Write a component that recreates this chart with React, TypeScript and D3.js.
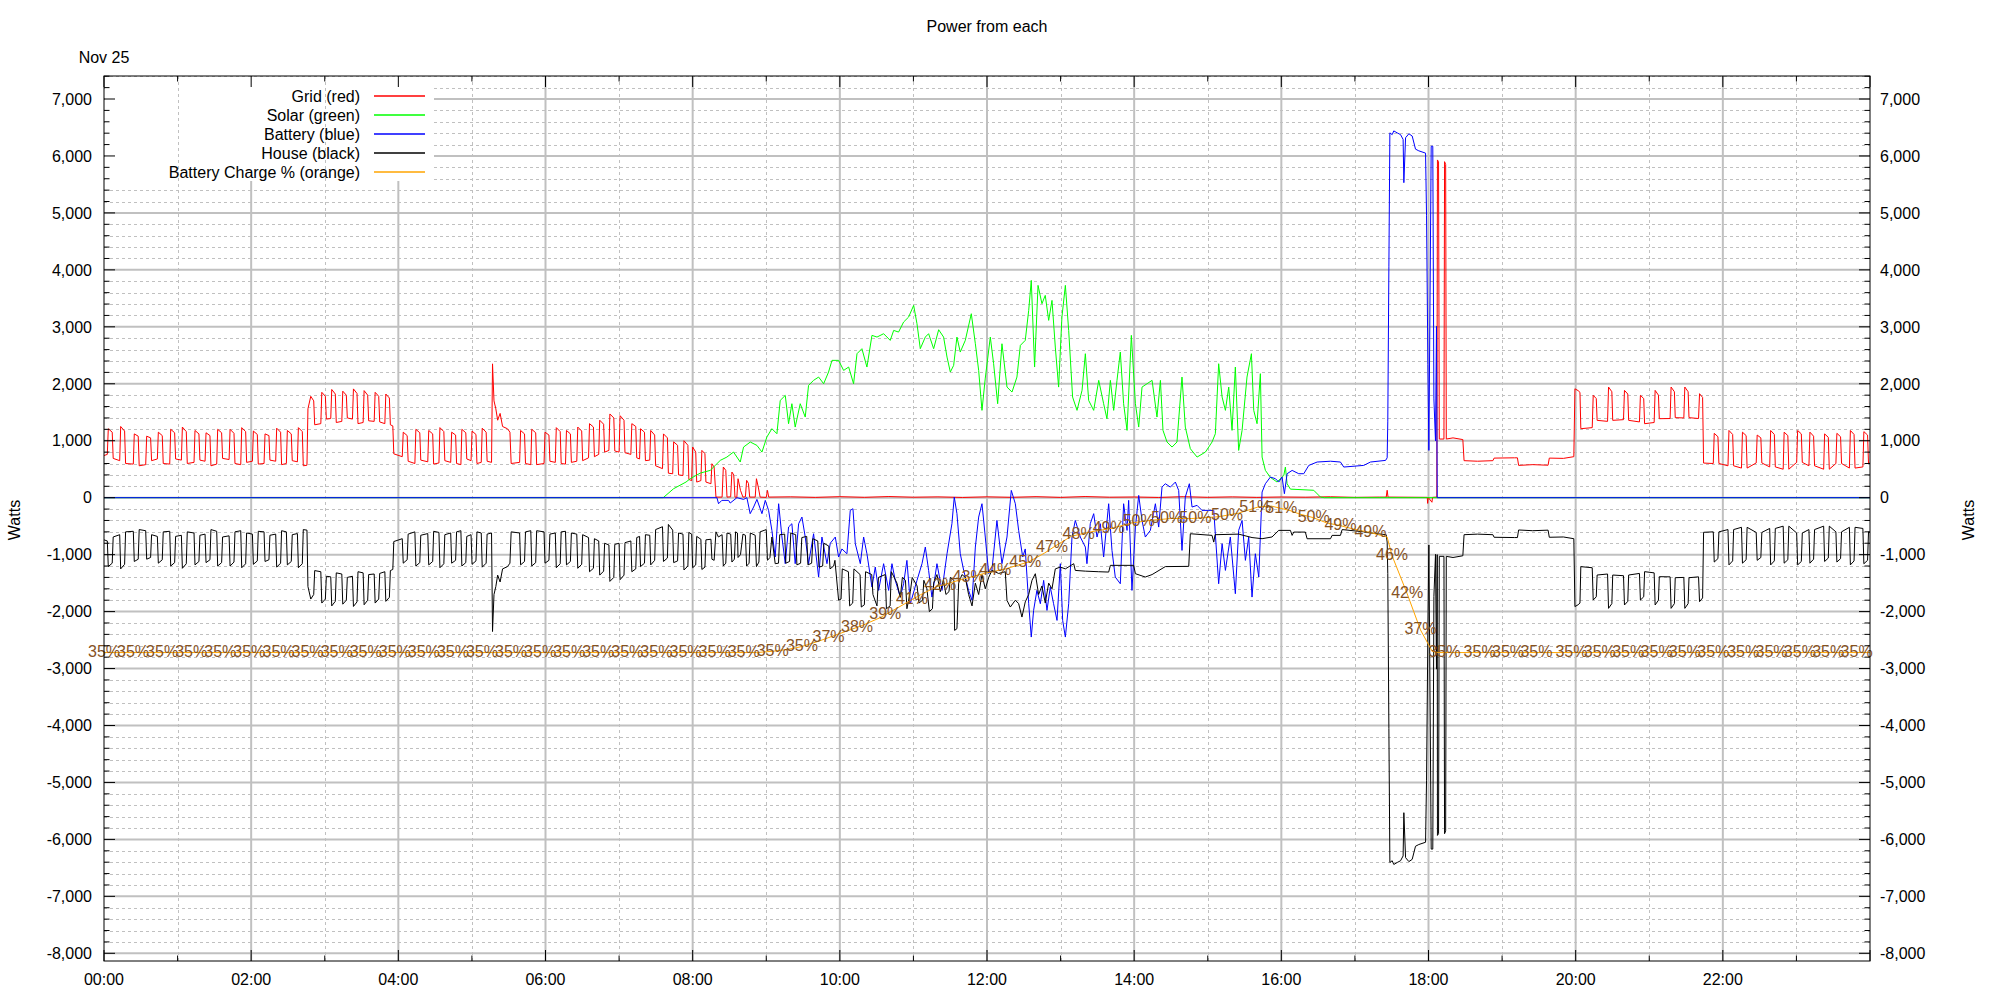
import React from 'react';
import * as d3 from 'd3';

// ---------- layout ----------
const PL = 104, PR = 1870, PT = 76, PB = 961;
const Y_MIN = -8135, Y_MAX = 7404;
const FONT = "'Liberation Sans', Arial, sans-serif";

// ---------- ticks / labels ----------
const yMajorTicks = [-8000, -7000, -6000, -5000, -4000, -3000, -2000, -1000, 0, 1000, 2000, 3000, 4000, 5000, 6000, 7000];
const yMinorTicks = [-8000, -7800, -7600, -7400, -7200, -7000, -6800, -6600, -6400, -6200, -6000, -5800, -5600, -5400, -5200, -5000, -4800, -4600, -4400, -4200, -4000, -3800, -3600, -3400, -3200, -3000, -2800, -2600, -2400, -2200, -2000, -1800, -1600, -1400, -1200, -1000, -800, -600, -400, -200, 0, 200, 400, 600, 800, 1000, 1200, 1400, 1600, 1800, 2000, 2200, 2400, 2600, 2800, 3000, 3200, 3400, 3600, 3800, 4000, 4200, 4400, 4600, 4800, 5000, 5200, 5400, 5600, 5800, 6000, 6200, 6400, 6600, 6800, 7000, 7200, 7400];
const xMajorHours = [0, 2, 4, 6, 8, 10, 12, 14, 16, 18, 20, 22, 24];
const xMinorHours = [1, 3, 5, 7, 9, 11, 13, 15, 17, 19, 21, 23];
const xTickLabels = ['00:00', '02:00', '04:00', '06:00', '08:00', '10:00', '12:00', '14:00', '16:00', '18:00', '20:00', '22:00'];

const legendItems: [string, string][] = [
  ['Grid (red)', '#ff0000'],
  ['Solar (green)', '#00ff00'],
  ['Battery (blue)', '#0000ff'],
  ['House (black)', '#000000'],
  ['Battery Charge % (orange)', '#ffa500'],
];

// ---------- data: [minute of day, watts] ----------
const gridPts: [number, number][] = [
  [0,740],[2.7,760],[3.5,1210],[6.7,1150],[7.5,690],
  [12.8,650],[13.6,1250],[16.8,1170],[17.6,600],
  [23.9,590],[24.7,1120],[27.9,1080],[28.7,560],
  [34,580],[34.8,1080],[38,1050],[38.8,650],
  [43.5,680],[44.3,1150],[47.5,1090],[48.3,600],
  [53.6,590],[54.4,1200],[57.6,1140],[58.4,680],
  [63.1,660],[63.9,1240],[67.1,1160],[67.9,600],
  [73.4,620],[74.2,1180],[77.4,1120],[78.2,660],
  [82.4,640],[83.2,1140],[86.4,1090],[87.2,560],
  [91.9,590],[92.7,1200],[95.9,1140],[96.7,690],
  [102,670],[102.8,1200],[106,1130],[106.8,600],
  [111.5,580],[112.3,1230],[115.5,1160],[116.3,620],
  [121,640],[121.8,1170],[125,1110],[125.8,590],
  [130.5,600],[131.3,1120],[134.5,1090],[135.3,660],
  [140,640],[140.8,1220],[144,1150],[144.8,580],
  [148.7,600],[149.5,1180],[152.7,1120],[153.5,650],
  [157.7,630],[158.5,1230],[161.7,1160],[162.5,560],
  [165.5,570],[166.3,1560],[168.6,1780],[171,1700],[171.8,1280],
  [176.8,1300],[177.6,1850],[180.5,1780],[181.3,1380],
  [184.9,1390],[185.7,1900],[188.6,1820],[189.4,1320],
  [193.9,1340],[194.7,1870],[197.6,1800],[198.4,1400],
  [202.6,1380],[203.4,1910],[206.3,1830],[207.1,1300],
  [211.3,1320],[212.1,1880],[215,1800],[215.8,1350],
  [220.3,1340],[221.1,1850],[224,1780],[224.8,1330],
  [229,1300],[229.8,1820],[232.7,1750],[233.5,1280],
  [235.5,1260],[236.3,770],
  [243.2,720],[244,1150],[247.2,1090],[248,640],
  [253.5,600],[254.3,1200],[257.5,1140],[258.3,660],
  [264,630],[264.8,1180],[268,1120],[268.8,590],
  [273.1,610],[273.9,1230],[277.1,1160],[277.9,650],
  [282.7,620],[283.5,1150],[286.7,1100],[287.5,600],
  [291,580],[291.8,1200],[295,1140],[295.8,680],
  [299.3,650],[300.1,1170],[303.3,1110],[304.1,600],
  [307.6,620],[308.4,1220],[311.6,1150],[312.4,640],
  [316,620],[316.8,2350],[318,1700],[319.5,1560],[321,1360],[323,1480],[325,1250],[329,1210],[331,1150],[332,600],
  [338.9,620],[339.7,1180],[342.9,1120],[343.7,600],
  [348,580],[348.8,1200],[352,1140],[352.8,580],
  [358.8,600],[359.6,1150],[362.8,1100],[363.6,640],
  [368,620],[368.8,1230],[372,1160],[372.8,600],
  [376.3,590],[377.1,1180],[380.3,1120],[381.1,620],
  [385.5,640],[386.3,1240],[389.5,1170],[390.3,650],
  [395.1,700],[395.9,1300],[399.1,1240],[399.9,720],
  [403.4,760],[404.2,1360],[407.4,1290],[408.2,800],
  [411.7,830],[412.5,1470],[415.7,1400],[416.5,820],
  [420,800],[420.8,1440],[424,1360],[424.8,790],
  [429.6,760],[430.4,1300],[433.6,1250],[434.4,700],
  [436.7,680],[437.5,1210],[440.7,1150],[441.5,650],
  [445,660],[445.8,1180],[449,1100],[449.8,560],
  [455.4,510],[456.2,1120],[459.4,1050],[460.2,430],
  [463.7,420],[464.5,980],[467.7,920],[468.5,400],
  [472.1,390],[472.9,1000],[476.1,920],[476.9,320],
  [479.2,300],[480,890],[482.5,800],[483.3,274],
  [486.7,300],[487.5,830],[490,772],[490.8,274],
  [494.9,245],[495.7,596],[497.5,538],[499,10],
  [504,10],[505,538],[507,480],[508,10],
  [511,15],[512,450],[513.5,400],[514.5,10],
  [516,5],[517,333],[519,128],[521,10],
  [523,15],[524,304],[525.5,250],[526.5,10],
  [531,10],[532,333],[533.5,187],[535,10],
  [540,5],[541,128],[542,10],
  [560,15],[580,5],[600,18],[620,6],[640,20],[660,8],[680,14],[700,4],[720,15],[740,6],[760,18],[780,5],[800,20],[820,8],[840,12],[860,4],[880,18],[900,6],[920,14],[940,5],[960,12],[980,8],[1000,16],[1020,5],[1040,10],
  [1045.5,10],[1046.3,130],[1047,10],[1079,5],[1079.3,-100],[1079.8,5],[1082.8,-80],[1083.3,5],[1086.8,10],
  [1087.3,5930],[1088.2,5900],[1088.8,1030],[1092.6,1030],[1093.1,5900],[1094,5850],[1094.5,1030],
  [1100,1050],[1108,1020],[1109,650],[1120,640],[1132.5,650],[1133.5,695],[1150,700],[1152.5,700],[1153.5,567],[1165,580],[1177.5,570],[1178.5,695],[1190,690],[1198.5,720],
  [1199.4,1912],[1202,1880],[1203.5,1850],[1204.2,1211],
  [1213.5,1230],[1214.3,1797],[1216.8,1740],[1217.5,1358],
  [1226,1340],[1226.8,1943],[1229.5,1860],[1230.2,1358],
  [1239,1370],[1239.8,1884],[1242.5,1820],[1243.2,1358],
  [1252,1330],[1252.8,1797],[1255.5,1740],[1256.2,1299],
  [1264,1320],[1264.8,1884],[1267.5,1800],[1268.2,1387],
  [1277,1390],[1277.8,1943],[1280.5,1860],[1281.2,1405],
  [1288.2,1400],[1289,1943],[1291.7,1860],[1292.4,1405],
  [1300.2,1390],[1301,1826],[1303.5,1760],[1304.3,608],
  [1312.2,600],[1313,1130],[1316,1070],[1316.8,600],
  [1324.2,560],[1325,1180],[1328,1110],[1328.8,560],
  [1335.2,520],[1336,1150],[1339,1090],[1339.8,520],
  [1347.2,610],[1348,1100],[1351,1050],[1351.8,610],
  [1358.2,540],[1359,1180],[1362,1110],[1362.8,540],
  [1369.2,500],[1370,1150],[1373,1090],[1373.8,500],
  [1380.2,620],[1381,1180],[1384,1120],[1384.8,620],
  [1390.2,560],[1391,1150],[1394,1080],[1394.8,560],
  [1402.2,500],[1403,1120],[1406,1060],[1406.8,500],
  [1412.2,600],[1413,1130],[1416,1070],[1416.8,600],
  [1423.2,520],[1424,1180],[1427,1110],[1427.8,520],
  [1434.2,540],[1435,1160],[1438,1100],[1438.8,600],[1440,610],
];

const solarPts: [number, number][] = [
  [0,0],[456,0],[464.4,157],[474.6,275],[478,333],[486.2,432],[494.3,479],[498.4,567],[502.5,655],[507.9,713],[513.3,801],[518.8,626],[521.5,889],[527,977],[532.4,918],[536.5,801],[540.5,1065],[544.6,1211],[548.7,1123],[551.4,1708],[555.5,1796],[558.2,1299],[560.9,1650],[563.6,1240],[567.7,1650],[571.8,1416],[574.5,1972],[578.6,2060],[582.7,2118],[586.8,2001],[590.8,2206],[593.6,2411],[599,2411],[603.1,2235],[607.2,2294],[611.2,2001],[614,2528],[618,2616],[622.1,2294],[626.2,2850],[630.3,2820],[635.7,2879],[641.1,2762],[643.9,2937],[647.9,2908],[652,3084],[656.1,3172],[660.2,3376],[662.9,3055],[665.6,2616],[669.7,2820],[672.4,2879],[676.5,2616],[680.6,2949],[684.6,2820],[687.4,2469],[690.1,2206],[692.8,2323],[695.5,2820],[698.2,2557],[702.3,2762],[707.2,3230],[710.5,2703],[713.2,2235],[715.9,1533],[718.6,2100],[722.7,2820],[725.4,2352],[728.7,1650],[732.2,2703],[736.3,1942],[740.4,1855],[744.4,2118],[747.2,2674],[751.2,2762],[754,3289],[756.1,3815],[758.8,2294],[761.6,3728],[764.8,3406],[767.5,3552],[770.3,3113],[773,3464],[775.7,2645],[778.4,1942],[781.1,3172],[783.9,3728],[786.6,2937],[789.8,1767],[793.4,1533],[797.5,1884],[800.2,2528],[802.9,1708],[807,1533],[811.1,2060],[815.1,1650],[817.8,1387],[820.6,2060],[823.3,1533],[826,2060],[828.7,2557],[831.4,1650],[834.2,1182],[837.7,2850],[841,1650],[843.7,1240],[846.4,1942],[850.5,2001],[854.6,2060],[858.6,1416],[861.4,2060],[863.5,1182],[866.8,977],[870.9,889],[874.9,977],[879,2118],[881.7,1240],[885.8,860],[891.3,713],[898.1,801],[903.5,977],[906.2,1123],[908.9,2352],[911.7,1767],[914.4,1533],[917.1,1942],[919.8,1182],[922.5,2294],[925.2,830],[928,1182],[932,2118],[935.6,2528],[937.5,1533],[940.2,1299],[942.9,2177],[944.3,713],[947,479],[951.1,356],[956.5,275],[962,390],[963.3,538],[964.7,245],[967.4,150],[986.4,130],[991.9,11],[995,0],[1440,0],
];

const batteryPts: [number, number][] = [
  [0,0],[499.8,0],[501.1,-106],[503.8,-47],[509.3,-47],[510.6,-94],[516.1,0],[521.5,-30],[524.2,0],[526.9,-281],[529.7,-164],[532.4,-30],[536.5,-281],[539.2,-47],[541.9,-223],[544.6,-574],[547.3,-1042],[550.1,-106],[552.8,-691],[555.5,-1159],[558.2,-515],[560.9,-457],[563.6,-1159],[566.4,-457],[569.1,-340],[571.8,-691],[574.5,-1159],[578.6,-633],[582.7,-1393],[585.4,-691],[589.5,-1159],[592.2,-800],[596.3,-691],[599,-1042],[601.7,-900],[605.8,-984],[608.5,-223],[610.7,-194],[612.6,-808],[616.7,-1159],[619.4,-691],[622.1,-984],[626.2,-1569],[628.9,-1218],[631.6,-1628],[635.7,-1159],[639.8,-1628],[642.5,-1159],[645.2,-1452],[649.3,-1745],[652,-1511],[654.7,-1101],[657.5,-1862],[662.9,-1452],[667,-1159],[669.7,-867],[672.4,-1277],[675.1,-1745],[679.2,-1159],[683.3,-1628],[687.4,-984],[691.4,-457],[693.3,11],[695.5,-281],[698.2,-984],[701,-1277],[705,-1628],[707.8,-1803],[710.5,-867],[713.2,-340],[715.9,-106],[718.6,-691],[721.4,-1335],[724,-1277],[728.1,-399],[732.2,-1159],[736.3,-691],[739.8,128],[743.1,-106],[745.8,-574],[749.1,-1042],[751.2,-900],[754,-1862],[756.1,-2447],[758,-1979],[760.7,-1628],[763.5,-1862],[766.2,-1452],[768.9,-1979],[771.6,-1569],[774.3,-1862],[777.1,-2155],[779.8,-1159],[781.7,-2155],[783.9,-2447],[786.6,-1862],[789.3,-691],[792,-399],[796.1,-691],[800.2,-867],[801.5,-1159],[804.2,-457],[807,-281],[809.7,-691],[812.4,-457],[815.1,-1042],[819.2,-106],[821.9,-925],[824.6,-1393],[828.7,-1511],[831.4,-106],[834.2,-574],[835.5,-47],[838.2,-1628],[841,-516],[843.7,40],[846.4,-399],[849.1,-691],[853.2,-574],[857.3,-106],[860,-516],[862.7,186],[865.4,245],[869.5,186],[873.6,274],[876.3,128],[879,-926],[881.7,11],[885,245],[887.2,-164],[891.3,-135],[895.3,-223],[900.8,-223],[904.9,-223],[908.9,-1511],[911.7,-808],[914.4,-1277],[918.4,-691],[922.5,-1686],[925.2,-574],[928,-399],[930.7,-1101],[933.4,-691],[936.1,-1745],[938.8,-984],[941.6,-1393],[944.3,99],[947,245],[951.1,362],[955.2,333],[957.9,274],[960.6,362],[962.5,70],[964.7,421],[968.8,479],[974.2,421],[978.3,421],[982.4,567],[989.2,626],[1000.1,640],[1008.2,626],[1010.9,538],[1027.2,567],[1032.7,626],[1045,655],[1046.3,700],[1046.8,1331],[1047.7,4053],[1048.5,6405],[1050.4,6375],[1051.7,6440],[1054.5,6405],[1057.2,6375],[1059.3,6290],[1059.9,5531],[1061.3,6320],[1064,6390],[1066.7,6350],[1069.4,6120],[1072.1,6090],[1077.6,6050],[1078.4,4960],[1079.5,2340],[1080.3,830],[1082.2,6170],[1083.5,6170],[1084.4,1735],[1085.7,995],[1086.5,3010],[1087.1,0],[1440,0],
];

const housePts: [number, number][] = [
  [0,-740],[2.7,-760],[3.5,-1210],[6.7,-1150],[7.5,-690],
  [12.8,-650],[13.6,-1250],[16.8,-1170],[17.6,-600],
  [23.9,-590],[24.7,-1120],[27.9,-1080],[28.7,-560],
  [34,-580],[34.8,-1080],[38,-1050],[38.8,-650],
  [43.5,-680],[44.3,-1150],[47.5,-1090],[48.3,-600],
  [53.6,-590],[54.4,-1200],[57.6,-1140],[58.4,-680],
  [63.1,-660],[63.9,-1240],[67.1,-1160],[67.9,-600],
  [73.4,-620],[74.2,-1180],[77.4,-1120],[78.2,-660],
  [82.4,-640],[83.2,-1140],[86.4,-1090],[87.2,-560],
  [91.9,-590],[92.7,-1200],[95.9,-1140],[96.7,-690],
  [102,-670],[102.8,-1200],[106,-1130],[106.8,-600],
  [111.5,-580],[112.3,-1230],[115.5,-1160],[116.3,-620],
  [121,-640],[121.8,-1170],[125,-1110],[125.8,-590],
  [130.5,-600],[131.3,-1120],[134.5,-1090],[135.3,-660],
  [140,-640],[140.8,-1220],[144,-1150],[144.8,-580],
  [148.7,-600],[149.5,-1180],[152.7,-1120],[153.5,-650],
  [157.7,-630],[158.5,-1230],[161.7,-1160],[162.5,-560],
  [165.5,-570],[166.3,-1560],[168.6,-1780],[171,-1700],[171.8,-1280],
  [176.8,-1300],[177.6,-1850],[180.5,-1780],[181.3,-1380],
  [184.9,-1390],[185.7,-1900],[188.6,-1820],[189.4,-1320],
  [193.9,-1340],[194.7,-1870],[197.6,-1800],[198.4,-1400],
  [202.6,-1380],[203.4,-1910],[206.3,-1830],[207.1,-1300],
  [211.3,-1320],[212.1,-1880],[215,-1800],[215.8,-1350],
  [220.3,-1340],[221.1,-1850],[224,-1780],[224.8,-1330],
  [229,-1300],[229.8,-1820],[232.7,-1750],[233.5,-1280],
  [235.5,-1260],[236.3,-770],
  [243.2,-720],[244,-1150],[247.2,-1090],[248,-640],
  [253.5,-600],[254.3,-1200],[257.5,-1140],[258.3,-660],
  [264,-630],[264.8,-1180],[268,-1120],[268.8,-590],
  [273.1,-610],[273.9,-1230],[277.1,-1160],[277.9,-650],
  [282.7,-620],[283.5,-1150],[286.7,-1100],[287.5,-600],
  [291,-580],[291.8,-1200],[295,-1140],[295.8,-680],
  [299.3,-650],[300.1,-1170],[303.3,-1110],[304.1,-600],
  [307.6,-620],[308.4,-1220],[311.6,-1150],[312.4,-640],
  [316,-620],[316.8,-2350],[318,-1700],[319.5,-1560],[321,-1360],[323,-1480],[325,-1250],[329,-1210],[331,-1150],[332,-600],
  [338.9,-620],[339.7,-1180],[342.9,-1120],[343.7,-600],
  [348,-580],[348.8,-1200],[352,-1140],[352.8,-580],
  [358.8,-600],[359.6,-1150],[362.8,-1100],[363.6,-640],
  [368,-620],[368.8,-1230],[372,-1160],[372.8,-600],
  [376.3,-590],[377.1,-1180],[380.3,-1120],[381.1,-620],
  [385.5,-640],[386.3,-1240],[389.5,-1170],[390.3,-650],
  [395.1,-700],[395.9,-1300],[399.1,-1240],[399.9,-720],
  [403.4,-760],[404.2,-1360],[407.4,-1290],[408.2,-800],
  [411.7,-830],[412.5,-1470],[415.7,-1400],[416.5,-820],
  [420,-800],[420.8,-1440],[424,-1360],[424.8,-790],
  [429.6,-760],[430.4,-1300],[433.6,-1250],[434.4,-700],
  [436.7,-680],[437.5,-1210],[440.7,-1150],[441.5,-650],
  [445,-660],[445.8,-1180],[449,-1100],[449.8,-560],[455.4,-510],[456.2,-1120],[459.4,-1060],[460.2,-470],[463.7,-570],[464.5,-1140],[467.7,-1110],[468.5,-620],[472.1,-640],[472.9,-1270],[476.1,-1200],[476.9,-610],[479.2,-640],[480,-1230],[482.5,-1180],[483.3,-680],[486.7,-730],[487.5,-1260],[490,-1220],[490.8,-740],[494.9,-730],[495.7,-1080],[497.5,-1100],[499,-600],
  [501,-690],[504,-650],[505,-1200],[507,-1150],[508,-620],[511,-640],[512,-1130],[514,-1080],[515,-600],[516.5,-620],[517,-1050],[519,-1000],[521,-640],[523,-660],[524,-1200],[526,-1150],[527,-620],[531,-660],[532,-1210],[534,-1130],[535,-600],[540,-560],[541,-1100],[543,-1050],
  [544.6,-691],[547.3,-1159],[550,-1150],[551,-650],[555,-640],[556,-1150],[559,-1120],[560,-620],[564,-650],[565,-1180],[568,-1150],[569,-700],[573,-680],[574,-1180],[577,-1150],[578,-720],[582,-760],[583,-1220],[586,-1200],[587,-800],[591,-850],[592,-1250],[595,-1200],[596,-1100],
  [599,-1800],[601,-1780],[602,-1250],[607,-1300],[608,-1900],[610.5,-1850],[611.5,-1250],[616.5,-1350],[617.5,-1920],[620,-1880],[621,-1300],[626,-1350],[627,-1700],[630.3,-1900],[631.5,-1400],[637,-1350],[638,-1950],[641,-1900],[642,-1300],[646.6,-1500],[649.3,-1750],[651,-1400],[653.5,-1450],[654.7,-1950],[657.5,-1650],[659,-1400],[663,-1550],[664.5,-1850],[667.5,-1800],[668.5,-1450],[671,-1600],[673,-2000],[675.5,-1950],[676.5,-1500],[679.2,-1350],[681.9,-1650],[684.6,-1450],[686.5,-1700],[689,-1650],[690.1,-1400],[693,-1450],[693.6,-2330],[695.5,-2300],[696.9,-1500],[699.6,-1350],[702.3,-1400],[705,-1700],[707.8,-1900],[710.5,-1500],[713.2,-1700],[715.9,-1350],[718.6,-1600],[721.4,-1400],
  [724,-1277],[729.5,-1330],[734.9,-1300],[736.3,-1803],[739,-1920],[743.1,-1800],[745.8,-1860],[748.5,-2096],[751.2,-1830],[754,-1700],[756.7,-1450],[759.4,-1335],[762.1,-1700],[764.8,-1550],[767.5,-1850],[770.3,-1500],[773,-1600],[775.7,-1250],[779.8,-1218],[783.9,-1250],[790.7,-1159],[792,-1277],[800.2,-1290],[811.1,-1300],[819.2,-1306],[820.6,-1188],[839.6,-1188],[841,-1335],[849.1,-1393],[854.6,-1350],[865.4,-1210],[884.5,-1206],[885.8,-633],[903.5,-662],[904.9,-780],[906,-650],[925.2,-640],[936.1,-700],[944.3,-720],[952.4,-690],[957.9,-574],[967.4,-574],[968.8,-662],[970.1,-604],[979.6,-604],[981,-721],[1000.1,-721],[1001.4,-662],[1008.2,-662],[1009.6,-560],[1027.2,-600],[1032.7,-620],[1045.5,-650],
  [1046.3,-780],[1046.8,-1331],[1047.7,-4053],[1048.5,-6405],[1050.4,-6375],[1051.7,-6440],[1054.5,-6405],[1057.2,-6375],[1059.3,-6290],[1059.9,-5531],[1061.3,-6320],[1064,-6390],[1066.7,-6350],[1069.4,-6120],[1072.1,-6090],[1077.6,-6050],[1078.4,-4960],[1079.5,-2340],[1080.3,-830],[1082.2,-6170],[1083.5,-6170],[1084.4,-1735],[1085.7,-995],[1086.5,-3010],[1087.1,-1000],[1087.3,-5930],[1088.2,-5900],[1088.8,-1030],[1092.6,-1030],[1093.1,-5900],[1094,-5850],[1094.5,-1030],[1100,-1050],[1108,-1020],[1109,-650],[1120,-640],[1132.5,-650],[1133.5,-695],[1150,-700],[1152.5,-700],[1153.5,-567],[1165,-580],[1177.5,-570],[1178.5,-695],[1190,-690],[1198.5,-720],
  [1199.4,-1912],[1202,-1880],[1203.5,-1850],[1204.2,-1211],
  [1213.5,-1230],[1214.3,-1797],[1216.8,-1740],[1217.5,-1358],
  [1226,-1340],[1226.8,-1943],[1229.5,-1860],[1230.2,-1358],
  [1239,-1370],[1239.8,-1884],[1242.5,-1820],[1243.2,-1358],
  [1252,-1330],[1252.8,-1797],[1255.5,-1740],[1256.2,-1299],
  [1264,-1320],[1264.8,-1884],[1267.5,-1800],[1268.2,-1387],
  [1277,-1390],[1277.8,-1943],[1280.5,-1860],[1281.2,-1405],
  [1288.2,-1400],[1289,-1943],[1291.7,-1860],[1292.4,-1405],
  [1300.2,-1390],[1301,-1826],[1303.5,-1760],[1304.3,-608],
  [1312.2,-600],[1313,-1130],[1316,-1070],[1316.8,-600],
  [1324.2,-560],[1325,-1180],[1328,-1110],[1328.8,-560],
  [1335.2,-520],[1336,-1150],[1339,-1090],[1339.8,-520],
  [1347.2,-610],[1348,-1100],[1351,-1050],[1351.8,-610],
  [1358.2,-540],[1359,-1180],[1362,-1110],[1362.8,-540],
  [1369.2,-500],[1370,-1150],[1373,-1090],[1373.8,-500],
  [1380.2,-620],[1381,-1180],[1384,-1120],[1384.8,-620],
  [1390.2,-560],[1391,-1150],[1394,-1080],[1394.8,-560],
  [1402.2,-500],[1403,-1120],[1406,-1060],[1406.8,-500],
  [1412.2,-600],[1413,-1130],[1416,-1070],[1416.8,-600],
  [1423.2,-520],[1424,-1180],[1427,-1110],[1427.8,-520],
  [1434.2,-540],[1435,-1160],[1438,-1100],[1438.8,-600],[1440,-610],
];

// battery charge line: [minute, percent]
const chargePts: [number, number][] = [
  [0,34.85],[532,34.85],[545.3,35.0],[557,35.2],[568,35.5],[582,36.1],[598,36.9],[618,37.9],[633,38.8],[647,39.9],[666,41.4],[679,42.3],[699,43.1],[718,43.8],[735,44.3],[754,45.1],[767,46.1],[778,47.1],[789,48.0],[805,48.5],[822,48.9],[838,49.5],[854,49.8],[870,50.0],[887,50.0],[909,50.2],[925,50.6],[941,51.3],[952,51.4],[967,50.9],[975,50.5],[986,50.1],[997,49.5],[1008,49.2],[1019,48.8],[1033,48.4],[1046.3,47.9],[1050.3,45.8],[1062.6,41.5],[1073.5,37.4],[1083,35.0],[1088,34.85],[1440,34.85],
];

// labels on the charge line: [minute, label]
const chargeLabels: [number, string][] = [
  [0,'35%'],[23.7,'35%'],[47.4,'35%'],[71.1,'35%'],[94.8,'35%'],[118.5,'35%'],[142.3,'35%'],[166,'35%'],[189.7,'35%'],[213.4,'35%'],[237.1,'35%'],[260.8,'35%'],[284.5,'35%'],[308.2,'35%'],[331.9,'35%'],[355.6,'35%'],[379.3,'35%'],[403,'35%'],[426.7,'35%'],[450.4,'35%'],[474.2,'35%'],[497.9,'35%'],[521.6,'35%'],[545.3,'35%'],
  [569.1,'35%'],[590.8,'37%'],[614,'38%'],[637.1,'39%'],[658.8,'41%'],[681.9,'42%'],[705,'43%'],[726.8,'44%'],[751.2,'45%'],[773,'47%'],[794.7,'48%'],[819.2,'49%'],[843.7,'50%'],[866.8,'50%'],[889.9,'50%'],[915.7,'50%'],[938.8,'51%'],[960,'51%'],[986.4,'50%'],[1008.2,'49%'],[1032.7,'49%'],[1050.3,'46%'],[1062.6,'42%'],[1073.5,'37%'],
  [1093,'35%'],[1121.7,'35%'],[1144.9,'35%'],[1168,'35%'],[1196.6,'35%'],[1219.7,'35%'],[1242.8,'35%'],[1266,'35%'],[1289,'35%'],[1312.2,'35%'],[1336.6,'35%'],[1359.7,'35%'],[1382.8,'35%'],[1405.9,'35%'],[1429.1,'35%'],
];

export default function App() {
  const x = d3.scaleLinear().domain([0, 1440]).range([PL, PR]);
  const y = d3.scaleLinear().domain([Y_MIN, Y_MAX]).range([PB, PT]);
  const yc = d3.scaleLinear().domain([0, 100]).range([PB, PT]);
  const line = d3.line<[number, number]>().x(d => x(d[0])).y(d => y(d[1]));
  const cline = d3.line<[number, number]>().x(d => x(d[0])).y(d => yc(d[1]));

  const bis = d3.bisector((d: [number, number]) => d[0]).left;
  const chargeAt = (t: number) => {
    const i = Math.max(1, Math.min(chargePts.length - 1, bis(chargePts, t)));
    const a = chargePts[i - 1], b = chargePts[i];
    const f = b[0] === a[0] ? 0 : (t - a[0]) / (b[0] - a[0]);
    return a[1] + (b[1] - a[1]) * f;
  };

  const fmt = (v: number) => v.toLocaleString('en-US');
  const majorSet = new Set(yMajorTicks);
  const gridColor = '#c0c0c0';

  return (
    <svg width={2000} height={1000} style={{ position: 'absolute', left: 0, top: 0, background: '#fff' }}
      fontFamily={FONT} fontSize={16}>
      <defs>
        <clipPath id="plotclip">
          <rect x={PL} y={PT} width={PR - PL} height={PB - PT} />
        </clipPath>
      </defs>
      <rect x={0} y={0} width={2000} height={1000} fill="#fff" />

      {/* horizontal minor grid */}
      {yMinorTicks.filter(v => !majorSet.has(v)).map(v => (
        <line key={'hm' + v} x1={PL} x2={PR} y1={Math.round(y(v)) + 0.5} y2={Math.round(y(v)) + 0.5}
          stroke={gridColor} strokeWidth={1} strokeDasharray="3,3" />
      ))}
      {/* horizontal major grid */}
      {yMajorTicks.map(v => (
        <line key={'hM' + v} x1={PL} x2={PR} y1={y(v)} y2={y(v)} stroke={gridColor} strokeWidth={2} />
      ))}
      {/* vertical major grid */}
      {xMajorHours.slice(1, -1).map(h => (
        <line key={'vM' + h} x1={x(h * 60)} x2={x(h * 60)} y1={PT} y2={PB} stroke={gridColor} strokeWidth={2} />
      ))}
      {/* opaque key box */}
      <rect x={PL + 1} y={PT + 1} width={433 - PL} height={180 - PT} fill="#fff" />
      {/* vertical minor grid */}
      {xMinorHours.map(h => (
        <line key={'vm' + h} x1={Math.round(x(h * 60)) + 0.5} x2={Math.round(x(h * 60)) + 0.5} y1={PT} y2={PB}
          stroke={gridColor} strokeWidth={1} strokeDasharray="3,3" />
      ))}

      {/* data */}
      <g clipPath="url(#plotclip)" fill="none" strokeWidth={1} strokeLinejoin="miter">
        <path d={line(gridPts) || ''} stroke="#ff0000" />
        <path d={line(solarPts) || ''} stroke="#00ff00" />
        <path d={line(batteryPts) || ''} stroke="#0000ff" />
        <path d={line(housePts) || ''} stroke="#000000" />
        <path d={cline(chargePts) || ''} stroke="#ffa500" />
      </g>
      <g fill="#86521f" textAnchor="middle">
        {chargeLabels.map(([t, s], i) => (
          <text key={'cl' + i} x={x(t)} y={yc(chargeAt(t)) - 1.5} dy="0.36em">{s}</text>
        ))}
      </g>

      {/* border */}
      <rect x={PL} y={PT} width={PR - PL} height={PB - PT} fill="none" stroke="#000" strokeWidth={1} />

      {/* y ticks */}
      {yMinorTicks.map(v => {
        const len = majorSet.has(v) ? 11 : 5.5;
        const yy = y(v);
        return (
          <g key={'yt' + v}>
            <line x1={PL} x2={PL + len} y1={yy} y2={yy} stroke="#000" strokeWidth={1} />
            <line x1={PR} x2={PR - len} y1={yy} y2={yy} stroke="#000" strokeWidth={1} />
          </g>
        );
      })}
      {/* x ticks */}
      {[...xMajorHours, ...xMinorHours].map(h => {
        const len = h % 2 === 0 ? 11 : 5.5;
        const xx = x(h * 60);
        return (
          <g key={'xt' + h}>
            <line x1={xx} x2={xx} y1={PB} y2={PB - len} stroke="#000" strokeWidth={1} />
            <line x1={xx} x2={xx} y1={PT} y2={PT + len} stroke="#000" strokeWidth={1} />
          </g>
        );
      })}

      {/* y tick labels */}
      {yMajorTicks.map(v => (
        <g key={'yl' + v}>
          <text x={92} y={y(v)} dy="0.36em" textAnchor="end">{fmt(v)}</text>
          <text x={1880} y={y(v)} dy="0.36em" textAnchor="start">{fmt(v)}</text>
        </g>
      ))}
      {/* x tick labels */}
      {xTickLabels.map((s, i) => (
        <text key={'xl' + i} x={x(xMajorHours[i] * 60)} y={985} textAnchor="middle">{s}</text>
      ))}

      {/* titles */}
      <text x={987} y={32} textAnchor="middle">Power from each</text>
      <text x={104} y={62.5} textAnchor="middle">Nov 25</text>
      <text transform="translate(14,520) rotate(-90)" dy="0.36em" textAnchor="middle">Watts</text>
      <text transform="translate(1968,520) rotate(-90)" dy="0.36em" textAnchor="middle">Watts</text>

      {/* key */}
      {legendItems.map(([label, color], i) => {
        const yy = 96 + i * 19;
        return (
          <g key={'lg' + i}>
            <text x={360} y={yy} dy="0.36em" textAnchor="end">{label}</text>
            <line x1={374} x2={425} y1={yy} y2={yy} stroke={color} strokeWidth={1.5} />
          </g>
        );
      })}
    </svg>
  );
}
